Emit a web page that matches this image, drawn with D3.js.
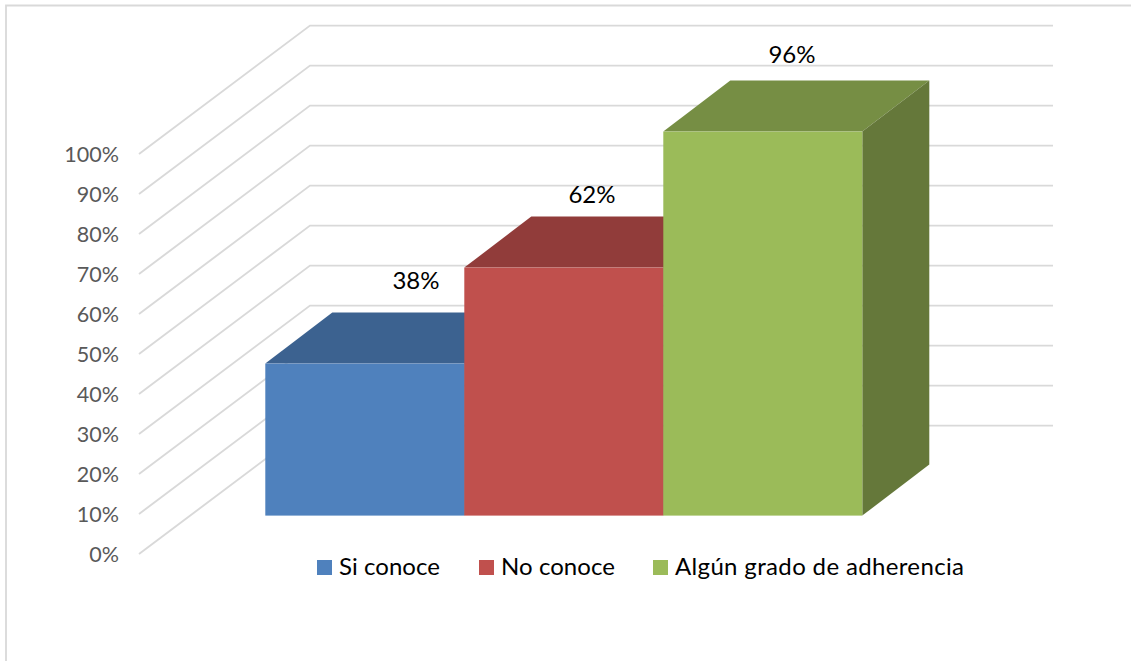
<!DOCTYPE html>
<html>
<head>
<meta charset="utf-8">
<script src="https://cdn.jsdelivr.net/npm/d3@7"></script>
<style>
  html, body { margin: 0; padding: 0; background: #fff; }
  svg { display: block; }
  text { font-family: Lato, "Open Sans", sans-serif; }
</style>
</head>
<body>
<div id="chart"></div>
<script>
const categories = ["Si conoce", "No conoce", "Algún grado de adherencia"];
const values = [38, 62, 96];
const valueLabels = ["38%", "62%", "96%"];
const frontColors = ["#4f81bd", "#c0504d", "#9bbb59"];
const topColors = ["#3c6290", "#913c3a", "#768e44"];
const sideColors = ["#355780", "#803533", "#65783a"];
const axisTicks = [0, 10, 20, 30, 40, 50, 60, 70, 80, 90, 100];

const width = 1131, height = 661;
const svg = d3.select("#chart").append("svg").attr("width", width).attr("height", height);

// Oblique projection: wall floor sits up and to the right of the axis floor.
const yAxis = d3.scaleLinear().domain([0, 100]).range([554, 154]);
const wallDx = 171, wallDy = -128.4;
const wallRight = 1053;

// Bars stand between the axis plane and the wall, with their own depth.
const yBar = d3.scaleLinear().domain([0, 100]).range([515.6, 115.6]);
const xBar = d3.scaleBand().domain(categories).range([265.3, 862.3]);
const depthDx = 67, depthDy = -51;

// Outer chart frame (only the top and left edges are visible)
svg.append("path")
  .attr("d", "M6,661V5.5H1131")
  .attr("fill", "none").attr("stroke", "#d9d9d9").attr("stroke-width", 1.8);

// Gridlines running along the side wall, then across the back wall
svg.append("g").selectAll("polyline").data(axisTicks).join("polyline")
  .attr("points", d => {
    const y = yAxis(d);
    return [[139, y], [139 + wallDx, y + wallDy], [wallRight, y + wallDy]].join(" ");
  })
  .attr("fill", "none").attr("stroke", "#d9d9d9").attr("stroke-width", 1.9);

// Axis tick labels
svg.append("g").selectAll("text").data(axisTicks).join("text")
  .attr("x", 119).attr("y", d => yAxis(d) + 8)
  .attr("text-anchor", "end")
  .attr("font-size", 21.5).attr("fill", "#595959")
  .text(d => d + "%");

// Bars, drawn left to right so each one covers the previous bar's hidden faces
const bars = svg.append("g").selectAll("g").data(categories).join("g");
bars.each(function (c, i) {
  const g = d3.select(this);
  const x0 = xBar(c), x1 = x0 + xBar.bandwidth();
  const yTop = yBar(values[i]), yBase = yBar(0);
  g.append("polygon")
    .attr("fill", topColors[i])
    .attr("points", [[x0, yTop], [x0 + depthDx, yTop + depthDy], [x1 + depthDx, yTop + depthDy], [x1, yTop]].join(" "));
  g.append("polygon")
    .attr("fill", sideColors[i])
    .attr("points", [[x1, yTop], [x1 + depthDx, yTop + depthDy], [x1 + depthDx, yBase + depthDy], [x1, yBase]].join(" "));
  g.append("rect")
    .attr("x", x0).attr("y", yTop)
    .attr("width", x1 - x0).attr("height", yBase - yTop)
    .attr("fill", frontColors[i]);
});

// Value labels, placed by hand above each bar's top face
const labelX = [416, 592, 792];
const labelGap = [24, 14, 18];
svg.append("g").selectAll("text").data(values).join("text")
  .attr("x", (d, i) => labelX[i])
  .attr("y", (d, i) => yBar(d) + depthDy - labelGap[i])
  .attr("text-anchor", "middle")
  .attr("font-size", 24).attr("fill", "#000")
  .text((d, i) => valueLabels[i]);

// Legend
const legendSwatchX = [317, 479, 653];
const legendTextWidth = [101, 114, 289];
const legend = svg.append("g").selectAll("g").data(categories).join("g");
legend.append("rect")
  .attr("x", (d, i) => legendSwatchX[i]).attr("y", 560)
  .attr("width", 15).attr("height", 15)
  .attr("fill", (d, i) => frontColors[i]);
legend.append("text")
  .attr("x", (d, i) => legendSwatchX[i] + 22).attr("y", 575)
  .attr("font-size", 24).attr("fill", "#000")
  .attr("textLength", (d, i) => legendTextWidth[i])
  .attr("lengthAdjust", "spacing")
  .text(d => d);
</script>
</body>
</html>
